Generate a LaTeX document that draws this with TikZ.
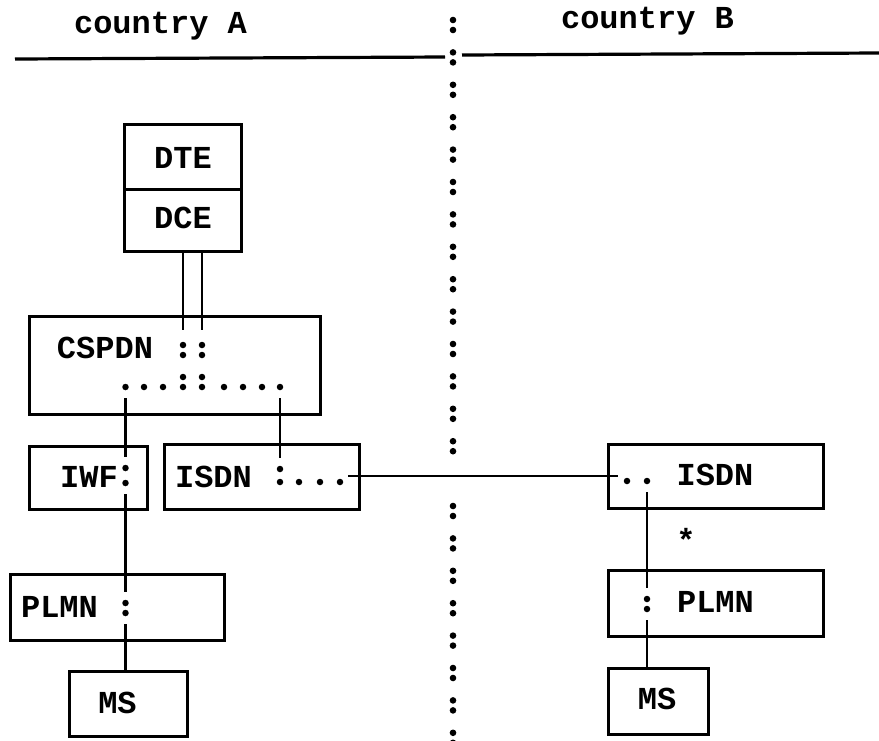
\documentclass[tikz,border=0pt]{standalone}
\usepackage{fontspec}
\setmainfont{Liberation Mono}
\begin{document}
\begin{tikzpicture}[x=1pt, y=-1pt,
 box/.style={draw, line width=2.6pt, inner sep=0pt, anchor=north west},
 lbl/.style={font=\fontsize{32}{38}\selectfont\bfseries, inner sep=0pt, text depth=0pt},
 dot/.style={circle, fill, inner sep=0pt, minimum size=6.5pt},
 link/.style={line width=2.2pt, shorten <=8pt, shorten >=8pt}]
\useasboundingbox (0,0) rectangle (879,740);
% headings and border
\node[lbl, anchor=base] (cntA) at (160.5,33) {country A};
\node[lbl, anchor=base] (cntB) at (647.5,28) {country B};
\draw[line width=3.2pt] (15,59) -- (445,57);
\draw[line width=3.2pt] (462,55) -- (879,53);
\foreach \k in {0,...,13}
 \fill (453,20+32.4*\k) circle (3.3pt) (453,30+32.4*\k) circle (3.3pt);
\foreach \k in {15,...,22}
 \fill (453,20+32.4*\k) circle (3.3pt) (453,30+32.4*\k) circle (3.3pt);
% country A
\node[box, minimum width=117pt, minimum height=65pt] (dte) at (123,123) {};
\node[box, minimum width=117pt, minimum height=62pt] (dce) at (123,188) {};
\node[lbl] (dteT) at (183,158) {DTE};
\node[lbl] (dceT) at (183,218) {DCE};
\node[box, minimum width=291pt, minimum height=98pt] (cspdn) at (28,315) {};
\node[lbl] (cspdnT) at (105,348) {CSPDN};
\node[dot] (cs1) at (183,345) {};
\node[dot] (cs2) at (183,355) {};
\node[dot] (cs3) at (202,345) {};
\node[dot] (cs4) at (202,355) {};
\node[dot] (up1) at (183,377) {};
\node[dot] (up2) at (202,377) {};
\foreach \x [count=\i] in {125.5,144,163,183,202,224,243,262,280}
 \node[dot] (row\i) at (\x,387) {};
\draw[line width=2.2pt, shorten >=12pt] (dce.south -| cs1) -- (cs1);
\draw[line width=2.2pt, shorten >=12pt] (dce.south -| cs3) -- (cs3);
\node[box, minimum width=118pt, minimum height=63pt] (iwf) at (28,445) {};
\node[lbl] (iwfT) at (89,477) {IWF};
\node[dot] (iw1) at (125.5,468) {};
\node[dot] (iw2) at (125.5,483) {};
\draw[link] (row1) -- (iw1);
\node[box, minimum width=195pt, minimum height=65pt] (isdnA) at (163,443) {};
\node[lbl] (isdnAT) at (213.5,477) {ISDN};
\node[dot] (ia1) at (280,469) {};
\node[dot] (ia2) at (280,482) {};
\node[dot] (ia3) at (299,482) {};
\node[dot] (ia4) at (320,482) {};
\node[dot] (ia5) at (340,482) {};
\draw[link] (row9) -- (ia1);
\node[box, minimum width=214pt, minimum height=66pt] (plmnA) at (9,573) {};
\node[lbl] (plmnAT) at (59.5,607) {PLMN};
\node[dot] (pa1) at (125.5,603) {};
\node[dot] (pa2) at (125.5,613) {};
\draw[link] (iw2) -- (pa1);
\node[box, minimum width=118pt, minimum height=65pt] (msA) at (68,670) {};
\node[lbl] (msAT) at (117.5,703) {MS};
\draw[line width=2.2pt, shorten <=8pt] (pa2) -- (pa2 |- msA.north);
% country B
\node[box, minimum width=215pt, minimum height=64pt] (isdnB) at (607,443) {};
\node[lbl] (isdnBT) at (715,475) {ISDN};
\node[dot] (ib1) at (627,481) {};
\node[dot] (ib2) at (647,481) {};
\coordinate (trunkA) at (348,476);
\coordinate (trunkB) at (618,476);
\draw[line width=2.2pt] (trunkA) -- (trunkB);
\node[box, minimum width=215pt, minimum height=66pt] (plmnB) at (607,569) {};
\node[lbl] (plmnBT) at (715.5,602) {PLMN};
\node[dot] (pb1) at (647,599) {};
\node[dot] (pb2) at (647,609) {};
\draw[link] (ib2) -- (pb1);
\node[lbl] (star) at (686,540) {*};
\node[box, minimum width=100pt, minimum height=66pt] (msB) at (607,667) {};
\node[lbl] (msBT) at (657,699) {MS};
\draw[line width=2.2pt, shorten <=8pt] (pb2) -- (pb2 |- msB.north);
\end{tikzpicture}
\end{document}
